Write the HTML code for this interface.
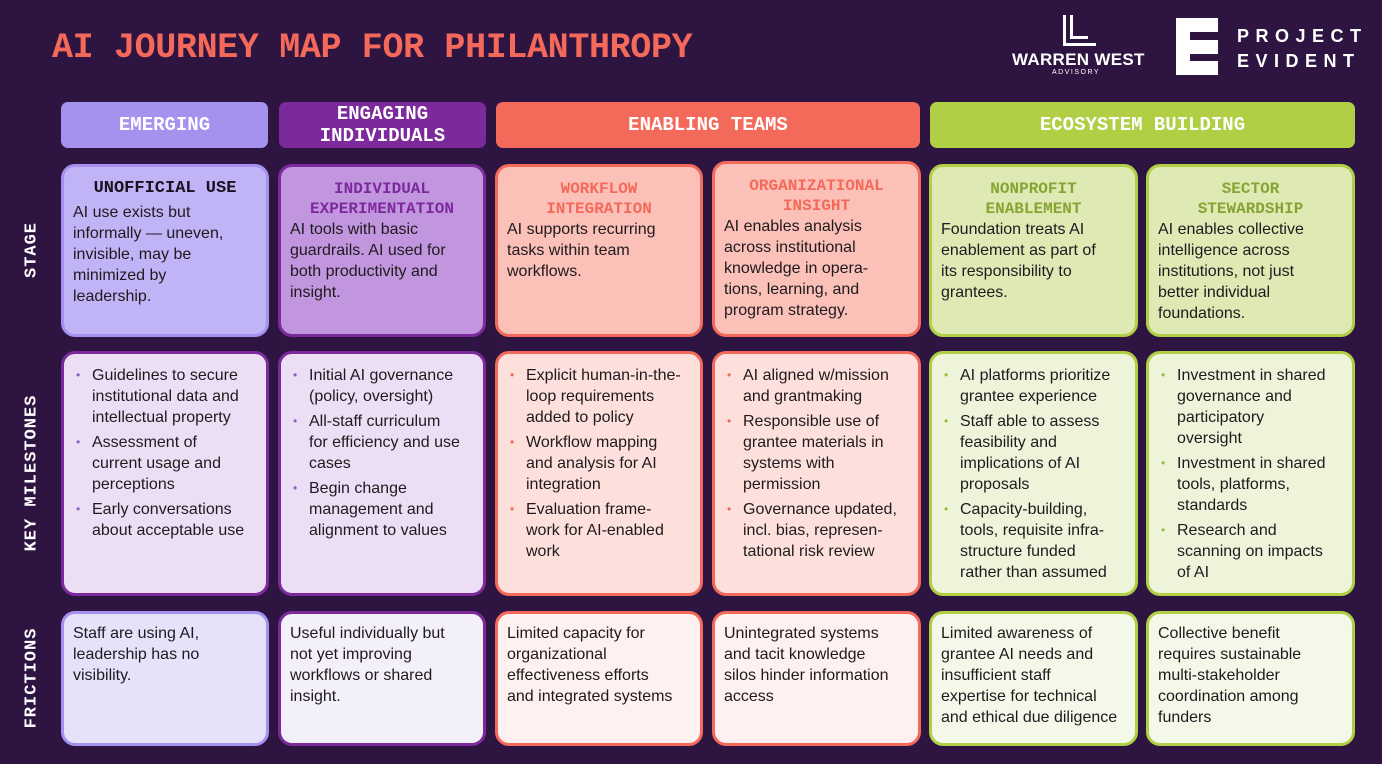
<!DOCTYPE html>
<html><head><meta charset="utf-8"><style>
*{margin:0;padding:0;box-sizing:border-box}
body{width:1382px;height:764px;background:#2e1541;position:relative;overflow:hidden;font-family:"Liberation Sans",sans-serif}
.a{position:absolute}
.title{left:52px;top:28px;font:bold 35px "Liberation Mono",monospace;color:#f4695a;letter-spacing:-0.35px;white-space:nowrap}
.hd{position:absolute;top:102px;height:46px;border-radius:7px;color:#fff;font:bold 19px "Liberation Mono",monospace;display:flex;align-items:center;justify-content:center;text-align:center;line-height:22px}
.c{position:absolute;border:3px solid;border-radius:14px;padding:9px 9px;font-size:16px;line-height:21px;color:#1e1a1e;white-space:nowrap}
.t{font:bold 16px "Liberation Mono",monospace;text-align:center;line-height:20px}
ul{list-style:none}
li{position:relative;padding-left:22px;margin-bottom:4px}
li:before{content:"•";position:absolute;left:6px;font-size:12px;color:#8a5fc0}
.r li:before{color:#f46a5a}
.g li:before{color:#9cbc3c}
.rl{position:absolute;color:#fff;font:bold 17px "Liberation Mono",monospace;transform:translate(-50%,-50%) rotate(-90deg);left:32px;white-space:nowrap;letter-spacing:1px}
</style></head><body>
<div class="a title">AI JOURNEY MAP FOR PHILANTHROPY</div>

<!-- logos -->
<div class="a" style="left:1063px;top:15px;width:3px;height:30px;background:#fff"></div>
<div class="a" style="left:1063px;top:43px;width:33px;height:3px;background:#fff"></div>
<div class="a" style="left:1070px;top:15px;width:3px;height:23px;background:#fff"></div>
<div class="a" style="left:1070px;top:36px;width:18px;height:3px;background:#fff"></div>
<div class="a" style="left:1012px;top:50px;color:#fff;font:bold 17px 'Liberation Sans',sans-serif;letter-spacing:0.3px">WARREN WEST</div>
<div class="a" style="left:1052px;top:69px;color:#fff;font:7px 'Liberation Sans',sans-serif;letter-spacing:1.5px">ADVISORY</div>
<svg class="a" style="left:1176px;top:18px" width="42" height="57"><path d="M0 0H42V14H14V22H42V36H14V43H42V57H0Z" fill="#fff"/></svg>
<div class="a" style="left:1237px;top:24px;color:#fff;font:bold 18px 'Liberation Sans',sans-serif;letter-spacing:6.5px;line-height:25px">PROJECT<br>EVIDENT</div>

<!-- headers -->
<div class="hd" style="left:61px;width:207px;background:#a592ee">EMERGING</div>
<div class="hd" style="left:279px;width:207px;background:#7c2a9b">ENGAGING<br>INDIVIDUALS</div>
<div class="hd" style="left:496px;width:424px;background:#f46a5a">ENABLING TEAMS</div>
<div class="hd" style="left:930px;width:425px;background:#b0cf45">ECOSYSTEM BUILDING</div>

<div class="rl" style="top:250px">STAGE</div>
<div class="rl" style="top:473px">KEY MILESTONES</div>
<div class="rl" style="top:678px">FRICTIONS</div>

<!-- stage -->
<div class="c" style="left:61px;top:164px;width:208px;height:173px;background:#c1b4f6;border-color:#a592ee;padding-top:12px"><div class="t" style="color:#1b1020;font-size:17px;margin-bottom:3px">UNOFFICIAL USE</div>AI use exists but<br>informally — uneven,<br>invisible, may be<br>minimized by<br>leadership.</div>
<div class="c" style="left:278px;top:164px;width:208px;height:173px;background:#c296df;border-color:#7c2a9b;padding-top:12px"><div class="t" style="color:#7c2a9b">INDIVIDUAL<br>EXPERIMENTATION</div>AI tools with basic<br>guardrails. AI used for<br>both productivity and<br>insight.</div>
<div class="c" style="left:495px;top:164px;width:208px;height:173px;background:#fbc0b7;border-color:#f46a5a;padding-top:12px"><div class="t" style="color:#f46a5a">WORKFLOW<br>INTEGRATION</div>AI supports recurring<br>tasks within team<br>workflows.</div>
<div class="c" style="left:712px;top:161px;width:209px;height:176px;background:#fbc0b7;border-color:#f46a5a;padding-top:12px"><div class="t" style="color:#f46a5a">ORGANIZATIONAL<br>INSIGHT</div>AI enables analysis<br>across institutional<br>knowledge in opera-<br>tions, learning, and<br>program strategy.</div>
<div class="c" style="left:929px;top:164px;width:209px;height:173px;background:#dee9b4;border-color:#b0cf45;padding-top:12px"><div class="t" style="color:#86a532">NONPROFIT<br>ENABLEMENT</div>Foundation treats AI<br>enablement as part of<br>its responsibility to<br>grantees.</div>
<div class="c" style="left:1146px;top:164px;width:209px;height:173px;background:#dee9b4;border-color:#b0cf45;padding-top:12px"><div class="t" style="color:#86a532">SECTOR<br>STEWARDSHIP</div>AI enables collective<br>intelligence across<br>institutions, not just<br>better individual<br>foundations.</div>

<!-- milestones -->
<div class="c" style="left:61px;top:351px;width:208px;height:245px;background:#ecdff5;border-color:#7c2a9b;padding:11px 6px"><ul><li>Guidelines to secure<br>institutional data and<br>intellectual property</li><li>Assessment of<br>current usage and<br>perceptions</li><li>Early conversations<br>about acceptable use</li></ul></div>
<div class="c" style="left:278px;top:351px;width:208px;height:245px;background:#ecdff5;border-color:#7c2a9b;padding:11px 6px"><ul><li>Initial AI governance<br>(policy, oversight)</li><li>All-staff curriculum<br>for efficiency and use<br>cases</li><li>Begin change<br>management and<br>alignment to values</li></ul></div>
<div class="c" style="left:495px;top:351px;width:208px;height:245px;background:#fde0db;border-color:#f46a5a;padding:11px 6px"><ul class="r"><li>Explicit human-in-the-<br>loop requirements<br>added to policy</li><li>Workflow mapping<br>and analysis for AI<br>integration</li><li>Evaluation frame-<br>work for AI-enabled<br>work</li></ul></div>
<div class="c" style="left:712px;top:351px;width:209px;height:245px;background:#fde0db;border-color:#f46a5a;padding:11px 6px"><ul class="r"><li>AI aligned w/mission<br>and grantmaking</li><li>Responsible use of<br>grantee materials in<br>systems with<br>permission</li><li>Governance updated,<br>incl. bias, represen-<br>tational risk review</li></ul></div>
<div class="c" style="left:929px;top:351px;width:209px;height:245px;background:#eef4d9;border-color:#b0cf45;padding:11px 6px"><ul class="g"><li>AI platforms prioritize<br>grantee experience</li><li>Staff able to assess<br>feasibility and<br>implications of AI<br>proposals</li><li>Capacity-building,<br>tools, requisite infra-<br>structure funded<br>rather than assumed</li></ul></div>
<div class="c" style="left:1146px;top:351px;width:209px;height:245px;background:#eef4d9;border-color:#b0cf45;padding:11px 6px"><ul class="g"><li>Investment in shared<br>governance and<br>participatory<br>oversight</li><li>Investment in shared<br>tools, platforms,<br>standards</li><li>Research and<br>scanning on impacts<br>of AI</li></ul></div>

<!-- frictions -->
<div class="c" style="left:61px;top:611px;width:208px;height:135px;background:#e6e2fa;border-color:#a592ee;padding-top:9px">Staff are using AI,<br>leadership has no<br>visibility.</div>
<div class="c" style="left:278px;top:611px;width:208px;height:135px;background:#f4f0fa;border-color:#7c2a9b;padding-top:9px">Useful individually but<br>not yet improving<br>workflows or shared<br>insight.</div>
<div class="c" style="left:495px;top:611px;width:208px;height:135px;background:#fef1ef;border-color:#f46a5a;padding-top:9px">Limited capacity for<br>organizational<br>effectiveness efforts<br>and integrated systems</div>
<div class="c" style="left:712px;top:611px;width:209px;height:135px;background:#fef1ef;border-color:#f46a5a;padding-top:9px">Unintegrated systems<br>and tacit knowledge<br>silos hinder information<br>access</div>
<div class="c" style="left:929px;top:611px;width:209px;height:135px;background:#f4f8e8;border-color:#b0cf45;padding-top:9px">Limited awareness of<br>grantee AI needs and<br>insufficient staff<br>expertise for technical<br>and ethical due diligence</div>
<div class="c" style="left:1146px;top:611px;width:209px;height:135px;background:#f4f8e8;border-color:#b0cf45;padding-top:9px">Collective benefit<br>requires sustainable<br>multi-stakeholder<br>coordination among<br>funders</div>
</body></html>
